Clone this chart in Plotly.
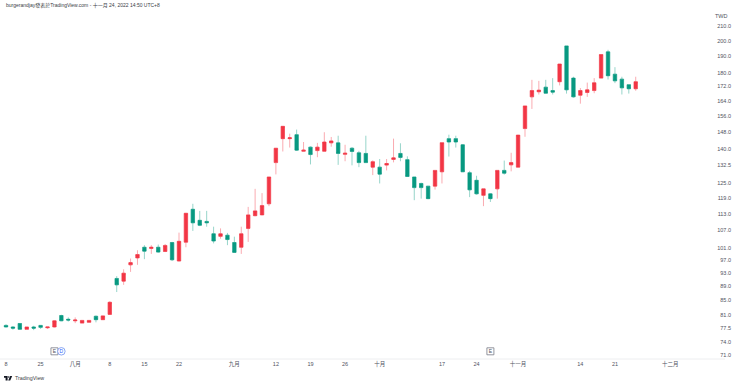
import math
import plotly.graph_objects as go

dates = ["2022-07-18","2022-07-19","2022-07-20","2022-07-21","2022-07-22",
"2022-07-25","2022-07-26","2022-07-27","2022-07-28","2022-07-29",
"2022-08-01","2022-08-02","2022-08-03","2022-08-04","2022-08-05",
"2022-08-08","2022-08-09","2022-08-10","2022-08-11","2022-08-12",
"2022-08-15","2022-08-16","2022-08-17","2022-08-18","2022-08-19",
"2022-08-22","2022-08-23","2022-08-24","2022-08-25","2022-08-26",
"2022-08-29","2022-08-30","2022-08-31","2022-09-01","2022-09-02",
"2022-09-05","2022-09-06","2022-09-07","2022-09-08",
"2022-09-12","2022-09-13","2022-09-14","2022-09-15","2022-09-16",
"2022-09-19","2022-09-20","2022-09-21","2022-09-22","2022-09-23",
"2022-09-26","2022-09-27","2022-09-28","2022-09-29","2022-09-30",
"2022-10-03","2022-10-04","2022-10-05","2022-10-06","2022-10-07",
"2022-10-11","2022-10-12","2022-10-13","2022-10-14",
"2022-10-17","2022-10-18","2022-10-19","2022-10-20","2022-10-21",
"2022-10-24","2022-10-25","2022-10-26","2022-10-27","2022-10-28",
"2022-10-31","2022-11-01","2022-11-02","2022-11-03","2022-11-04",
"2022-11-07","2022-11-08","2022-11-09","2022-11-10","2022-11-11",
"2022-11-14","2022-11-15","2022-11-16","2022-11-17","2022-11-18",
"2022-11-21","2022-11-22","2022-11-23","2022-11-24"]
future_dates = ["2022-11-25","2022-11-28","2022-11-29","2022-11-30","2022-12-01",
"2022-12-02","2022-12-05","2022-12-06","2022-12-07","2022-12-08","2022-12-09",
"2022-12-12","2022-12-13","2022-12-14"]

opens = [78.2,77.8,78.7,77.2,77.8,78.2,77.6,77.8,80.8,79.8,79.4,78.8,79.0,80.6,79.7,81.1,
91.3,90.5,95.5,97.7,101.2,100.8,101.2,99.8,102.8,96.7,102.9,114.7,110.6,110.2,105.8,104.9,
105.3,102.8,101.2,107.7,112.3,112.6,116.8,133.8,144.8,144.8,146.7,138.9,140.8,139.2,138.9,142.8,
142.8,137.5,140.3,138.2,137.9,131.8,131.8,132.7,135.2,137.9,135.1,127.6,124.9,123.8,123.8,129.8,
144.8,144.8,141.9,129.4,126.2,120.1,120.7,122.7,130.4,132.8,131.8,149.7,166.2,169.0,171.6,169.7,
174.7,196.6,176.8,167.1,168.6,169.7,176.8,192.8,179.1,176.2,173.0,170.7]
highs = [78.5,78.0,78.8,77.8,78.1,78.3,77.8,79.5,81.0,80.3,80.3,79.5,79.5,80.8,80.8,84.7,
92.0,94.1,97.5,100.2,101.9,101.9,102.1,102.3,103.0,106.2,113.2,116.8,114.1,114.1,108.3,107.7,
106.1,104.8,108.3,115.6,122.7,121.0,127.6,140.3,150.8,147.2,149.2,143.2,141.1,142.8,147.9,145.6,
146.2,141.9,140.8,139.1,146.2,134.8,135.4,135.4,144.8,142.6,136.6,127.6,125.2,123.8,130.4,142.9,
146.7,146.2,142.2,130.2,128.1,122.7,120.9,130.4,134.7,138.2,146.5,161.3,175.8,175.2,175.8,176.8,
185.2,196.6,177.6,171.1,174.2,176.8,191.1,194.1,183.3,177.6,173.0,177.6]
lows = [77.7,77.1,77.1,77.2,77.0,77.3,77.3,77.7,79.3,79.2,78.8,78.8,79.0,79.0,79.7,81.0,
87.3,89.4,93.3,95.5,97.3,99.0,99.4,99.6,96.7,96.6,101.2,106.8,108.5,108.3,102.5,104.1,
101.9,99.4,99.0,103.0,112.1,112.5,115.9,128.7,138.8,140.6,139.1,138.8,133.0,136.2,138.8,141.0,
132.8,134.4,132.6,131.8,133.7,128.4,124.9,130.4,133.9,134.4,127.6,118.2,118.8,118.6,122.4,124.9,
136.5,140.6,129.7,119.4,120.4,115.9,117.5,118.8,128.6,130.0,131.8,145.7,159.7,167.5,168.0,167.5,
172.6,168.0,165.8,162.5,166.2,168.2,176.7,176.0,173.9,167.5,168.0,169.6]
closes = [77.8,77.5,77.2,77.8,77.5,77.7,77.8,79.4,79.4,79.6,79.6,79.5,79.5,79.7,80.7,84.4,
89.4,92.9,96.2,98.8,99.9,101.2,99.6,101.8,97.1,103.2,113.2,109.7,108.8,109.7,103.3,105.8,
103.8,99.5,105.8,112.6,114.1,116.1,127.6,140.3,150.8,145.2,139.4,139.4,137.4,140.8,143.2,143.7,
137.9,138.0,138.8,133.8,133.8,134.2,128.8,133.4,135.9,136.1,127.8,123.2,123.2,118.8,130.4,142.9,
143.2,143.2,129.8,122.3,120.7,122.7,118.8,130.4,129.2,133.8,146.5,161.3,169.7,169.9,168.2,168.8,
185.2,170.1,166.2,169.7,170.1,174.1,191.1,178.2,175.2,171.2,170.7,174.7]

y_ticks = [210,200,190,180,172,164,156,148,140,132.5,125,119,113,107,101,97,93,89,85,81,77.5,74,71]
x_tick_dates = ["2022-07-18","2022-07-25","2022-08-01","2022-08-08","2022-08-15","2022-08-22",
"2022-09-01","2022-09-12","2022-09-19","2022-09-26","2022-10-03","2022-10-17","2022-10-24",
"2022-11-01","2022-11-14","2022-11-21","2022-12-01"]
x_tick_text = ["8","25","八月","8","15","22","九月","12","19","26","十月","17","24","十一月","14","21","十二月"]

earnings_dates = ["2022-07-27","2022-10-26"]
dividend_dates = ["2022-07-28"]
event_level = 71.8

UP = "#F23645"
DOWN = "#089981"
FONT = "Liberation Sans, Noto Sans CJK TC, sans-serif"
TEXT = "#50535E"

fig = go.Figure()
# wicks
fig.add_trace(go.Candlestick(x=dates, open=opens, high=highs, low=lows, close=closes,
    whiskerwidth=0, hoverinfo="skip",
    increasing=dict(line=dict(color="rgba(242,54,69,0.42)", width=1), fillcolor="rgba(0,0,0,0)"),
    decreasing=dict(line=dict(color="rgba(8,153,129,0.42)", width=1), fillcolor="rgba(0,0,0,0)")))
# bodies
fig.add_trace(go.Candlestick(x=dates, open=opens, close=closes,
    high=[max(a, b) for a, b in zip(opens, closes)],
    low=[min(a, b) for a, b in zip(opens, closes)],
    whiskerwidth=0,
    increasing=dict(line=dict(color=UP, width=0.4), fillcolor=UP),
    decreasing=dict(line=dict(color=DOWN, width=0.4), fillcolor=DOWN)))
fig.add_trace(go.Scatter(x=earnings_dates, y=[event_level]*len(earnings_dates), mode="markers+text",
    text=["E"]*len(earnings_dates), textposition="middle center",
    textfont=dict(size=5, color="#50535E", family=FONT), cliponaxis=False,
    marker=dict(symbol="square", size=7, color="white", line=dict(color="#787B86", width=0.8))))
fig.add_trace(go.Scatter(x=dividend_dates, y=[event_level]*len(dividend_dates), mode="markers+text",
    text=["D"]*len(dividend_dates), textposition="middle center",
    textfont=dict(size=5, color="#2962FF", family=FONT), cliponaxis=False,
    marker=dict(symbol="circle", size=7.5, color="white", line=dict(color="#6F90F0", width=0.8))))

M_L, M_R, M_T, M_B = 0, 6, 16, 26
PW, PH = 734, 343
idx_left = -0.867
idx_right = (PW - 6) / 6.92

def px(x):
    return x / PW

def py(y):
    return (359 - y) / PH

logo_bar = (f"M {px(4)} {py(376)} L {px(7.6)} {py(376)} L {px(7.6)} {py(380.5)} "
            f"L {px(5.6)} {py(380.5)} L {px(5.6)} {py(377.8)} L {px(4)} {py(377.8)} Z")
logo_slant = (f"M {px(10.2)} {py(376)} L {px(12.2)} {py(376)} L {px(10.2)} {py(380.5)} L {px(8.2)} {py(380.5)} Z")

fig.update_layout(
    width=740, height=385,
    margin=dict(l=M_L, r=M_R, t=M_T, b=M_B, pad=0),
    paper_bgcolor="white", plot_bgcolor="white", showlegend=False,
    boxgap=0.3,
    font=dict(family=FONT, size=6, color=TEXT),
    xaxis=dict(type="category", categoryorder="array", categoryarray=dates + future_dates,
        range=[idx_left, idx_right], rangeslider=dict(visible=False),
        tickmode="array", tickvals=x_tick_dates, ticktext=x_tick_text,
        showgrid=False, zeroline=False, showline=False, ticks="", tickfont=dict(size=5.5, color=TEXT)),
    yaxis=dict(type="log", side="right", range=[math.log10(70.0), math.log10(217.0)],
        tickmode="array", tickvals=y_ticks, ticktext=[f"{v:.1f}" for v in y_ticks],
        ticklabelposition="inside", showgrid=False, zeroline=False, showline=False, ticks="",
        tickfont=dict(size=5.5, color=TEXT)),
    annotations=[
        dict(text="burgerandjay發表於TradingView.com - 十一月 24, 2022 14:50 UTC+8", xref="paper", yref="paper",
             x=px(4), y=py(6), xanchor="left", yanchor="middle", showarrow=False,
             font=dict(size=5, color="#3A3D46", family=FONT)),
        dict(text="TWD", xref="paper", yref="paper", x=px(730), y=py(16), xanchor="right", yanchor="middle",
             showarrow=False, font=dict(size=5.5, color=TEXT, family=FONT)),
        dict(text="TradingView", xref="paper", yref="paper", x=px(13), y=py(378), xanchor="left", yanchor="middle",
             showarrow=False, font=dict(size=5.3, color="#3A3D46", family=FONT)),
    ],
    shapes=[
        dict(type="line", xref="paper", yref="paper", x0=0, x1=px(725), y0=0, y1=0,
             line=dict(color="#EDEEF0", width=1)),
        dict(type="path", xref="paper", yref="paper", path=logo_bar,
             fillcolor="#131722", line=dict(width=0)),
        dict(type="path", xref="paper", yref="paper", path=logo_slant,
             fillcolor="#131722", line=dict(width=0)),
        dict(type="circle", xref="paper", yref="paper", x0=px(8), x1=px(9.6), y0=py(377.8), y1=py(376.2),
             fillcolor="#131722", line=dict(width=0)),
    ],
)
fig.write_html("out.html", config={"displayModeBar": False}, post_script="document.body.style.margin='0';")
